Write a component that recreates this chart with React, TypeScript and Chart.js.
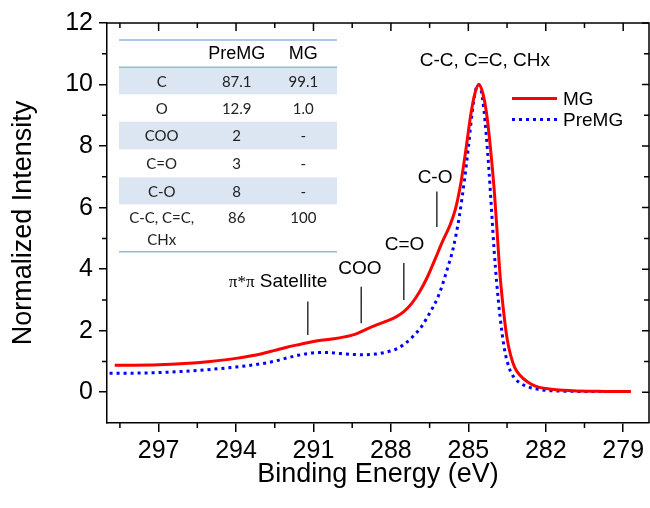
import React, { useEffect, useRef } from "react";
import { Chart, registerables } from "chart.js";
Chart.register(...registerables);

// ---------- data ----------
const mgEnergy = [298.7, 298.0, 297.0, 296.0, 295.0, 294.0, 293.0, 292.5, 292.0, 291.5, 291.0, 290.6, 290.2, 289.8, 289.4, 289.0, 288.6, 288.2, 287.8, 287.5, 287.2, 286.9, 286.6, 286.3, 286.0, 285.7, 285.5, 285.3, 285.1, 284.9, 284.75, 284.6, 284.45, 284.3, 284.15, 284.0, 283.9, 283.77, 283.63, 283.5, 283.36, 283.2, 283.0, 282.7, 282.4, 282.0, 281.5, 281.0, 280.0, 279.0, 278.7];
const mgIntensity = [0.88, 0.88, 0.89, 0.93, 1.0, 1.1, 1.25, 1.36, 1.47, 1.56, 1.65, 1.7, 1.74, 1.8, 1.88, 2.03, 2.17, 2.3, 2.45, 2.62, 2.88, 3.25, 3.72, 4.3, 4.9, 5.45, 5.95, 6.75, 7.85, 9.05, 9.7, 10.0, 9.75, 9.1, 8.0, 6.6, 5.4, 3.8, 2.6, 1.75, 1.2, 0.8, 0.55, 0.33, 0.2, 0.12, 0.07, 0.05, 0.03, 0.02, 0.02];

const premgEnergy = [298.9, 298.0, 297.0, 296.0, 295.0, 294.0, 293.0, 292.5, 292.0, 291.6, 291.2, 290.8, 290.4, 290.0, 289.5, 289.0, 288.6, 288.2, 287.8, 287.5, 287.15, 286.8, 286.5, 286.2, 286.0, 285.8, 285.6, 285.35, 285.15, 285.0, 284.85, 284.72, 284.6, 284.5, 284.4, 284.3, 284.2, 284.1, 284.0, 283.9, 283.77, 283.6, 283.4, 283.2, 283.0, 282.7, 282.4, 282.0, 281.5, 281.0, 280.0, 279.3];
const premgIntensity = [0.62, 0.62, 0.64, 0.68, 0.74, 0.82, 0.93, 1.01, 1.12, 1.2, 1.26, 1.29, 1.29, 1.26, 1.23, 1.22, 1.24, 1.3, 1.4, 1.55, 1.81, 2.15, 2.57, 3.05, 3.5, 4.05, 4.63, 5.71, 6.9, 7.95, 9.1, 9.8, 10.0, 9.8, 9.2, 8.3, 7.2, 5.9, 4.6, 3.55, 2.45, 1.4, 0.75, 0.45, 0.3, 0.18, 0.11, 0.06, 0.04, 0.03, 0.02, 0.02];

const xTickValues = [297, 294, 291, 288, 285, 282, 279];
const xMinorTicks = [298.5, 295.5, 292.5, 289.5, 286.5, 283.5, 280.5];
const yTickValues = [0, 2, 4, 6, 8, 10, 12];
const yMinorTicks = [1, 3, 5, 7, 9, 11];

const seriesNames = ["MG", "PreMG"];

const tableHeaders = ["", "PreMG", "MG"];
const tableLabels = ["C", "O", "COO", "C=O", "C-O", "C-C, C=C,|CHx"];
const tablePreMG = ["87.1", "12.9", "2", "3", "8", "86"];
const tableMG = ["99.1", "1.0", "-", "-", "-", "100"];

const peakLabels = ["C-C, C=C, CHx", "C-O", "C=O", "COO"];
const peakLabelEnergy = [284.36, 286.29, 287.47, 289.2];
const peakLabelY = [10.77, 6.97, 4.79, 4.01];
const satelliteEnergy = 292.37;
const satelliteY = 3.59;
const markerEnergy = [286.22, 287.5, 289.15, 291.22];
const markerBottom = [5.37, 3.0, 2.24, 1.86];
const markerTop = [6.52, 4.2, 3.43, 2.95];

const SANS = "'Liberation Sans', Arial, Helvetica, sans-serif";

const extrasPlugin = {
  id: "extras",
  afterDraw(chart: any) {
    const { ctx, chartArea: ca, scales } = chart;
    const xs = scales.x;
    const ys = scales.y;
    ctx.save();
    ctx.strokeStyle = "#000";
    ctx.lineWidth = 1.5;
    // top and right frame
    ctx.beginPath();
    ctx.moveTo(ca.left, ca.top);
    ctx.lineTo(ca.right, ca.top);
    ctx.lineTo(ca.right, ca.bottom);
    ctx.stroke();
    // ticks
    ctx.beginPath();
    for (const v of xTickValues) {
      const px = xs.getPixelForValue(v);
      ctx.moveTo(px, ca.top);
      ctx.lineTo(px, ca.top + 8);
    }
    for (const v of xMinorTicks) {
      const px = xs.getPixelForValue(v);
      ctx.moveTo(px, ca.top);
      ctx.lineTo(px, ca.top + 5);
      ctx.moveTo(px, ca.bottom);
      ctx.lineTo(px, ca.bottom + 5);
    }
    for (const v of yTickValues) {
      const py = ys.getPixelForValue(v);
      ctx.moveTo(ca.right, py);
      ctx.lineTo(ca.right - 7, py);
    }
    for (const v of yMinorTicks) {
      const py = ys.getPixelForValue(v);
      ctx.moveTo(ca.right, py);
      ctx.lineTo(ca.right - 5, py);
      ctx.moveTo(ca.left, py);
      ctx.lineTo(ca.left - 5, py);
    }
    ctx.stroke();

    // peak markers
    ctx.strokeStyle = "#333";
    ctx.lineWidth = 1.5;
    ctx.beginPath();
    markerEnergy.forEach((e, i) => {
      const px = xs.getPixelForValue(e);
      ctx.moveTo(px, ys.getPixelForValue(markerBottom[i]));
      ctx.lineTo(px, ys.getPixelForValue(markerTop[i]));
    });
    ctx.stroke();

    ctx.fillStyle = "#000";
    ctx.textBaseline = "middle";
    ctx.textAlign = "center";
    ctx.font = `19px ${SANS}`;
    peakLabels.forEach((t, i) => {
      ctx.fillText(t, xs.getPixelForValue(peakLabelEnergy[i]), ys.getPixelForValue(peakLabelY[i]));
    });
    // pi*pi satellite
    {
      const cx = xs.getPixelForValue(satelliteEnergy);
      const cy = ys.getPixelForValue(satelliteY);
      ctx.font = "17px 'Liberation Serif', 'Times New Roman', serif";
      const w1 = ctx.measureText("π*π").width;
      ctx.font = `19px ${SANS}`;
      const w2 = ctx.measureText(" Satellite").width;
      const start = cx - (w1 + w2) / 2;
      ctx.textAlign = "left";
      ctx.font = "17px 'Liberation Serif', 'Times New Roman', serif";
      ctx.fillText("π*π", start, cy + 1);
      ctx.font = `19px ${SANS}`;
      ctx.fillText(" Satellite", start + w1, cy);
    }

    // legend
    const lx0 = 512, lx1 = 557;
    const legendY = [98.5, 119.5];
    const colors = ["#ff0000", "#0000ff"];
    seriesNames.forEach((name, i) => {
      ctx.strokeStyle = colors[i];
      ctx.lineWidth = 3;
      ctx.setLineDash(i === 1 ? [3, 4] : []);
      ctx.beginPath();
      ctx.moveTo(lx0, legendY[i]);
      ctx.lineTo(lx1, legendY[i]);
      ctx.stroke();
      ctx.setLineDash([]);
      ctx.fillStyle = "#000";
      ctx.textAlign = "left";
      ctx.font = `19px ${SANS}`;
      ctx.fillText(name, 563, legendY[i] + 1);
    });

    // table
    const tx0 = 119, tx1 = 337;
    const colX = [161.7, 236.7, 303.3];
    const rowEdges = [67.3, 94.3, 121.7, 149.3, 177.3, 204.3, 251.7];
    ctx.fillStyle = "#dce6f2";
    [0, 2, 4].forEach((r) => {
      ctx.fillRect(tx0, rowEdges[r], tx1 - tx0, rowEdges[r + 1] - rowEdges[r]);
    });
    ctx.strokeStyle = "#95b6df";
    ctx.lineWidth = 1.5;
    ctx.beginPath();
    [40, 67.3, 251.7].forEach((y) => {
      ctx.moveTo(tx0, y);
      ctx.lineTo(tx1, y);
    });
    ctx.stroke();
    ctx.fillStyle = "#000";
    ctx.textAlign = "center";
    ctx.font = `18px ${SANS}`;
    tableHeaders.forEach((h, c) => {
      if (h) ctx.fillText(h, colX[c], 54.5);
    });
    ctx.font = "15px Lato, 'Open Sans', sans-serif";
    ctx.fillStyle = "#222";
    tableLabels.forEach((lab, r) => {
      const top = rowEdges[r];
      const bottom = rowEdges[r + 1];
      const lines = lab.split("|");
      if (lines.length > 1) {
        ctx.fillText(lines[0], colX[0], top + 14);
        ctx.fillText(lines[1], colX[0], top + 36);
        ctx.fillText(tablePreMG[r], colX[1], top + 14);
        ctx.fillText(tableMG[r], colX[2], top + 14);
      } else {
        const cy = (top + bottom) / 2 + 1;
        ctx.fillText(lines[0], colX[0], cy);
        ctx.fillText(tablePreMG[r], colX[1], cy);
        ctx.fillText(tableMG[r], colX[2], cy);
      }
    });
    ctx.restore();
  },
};

export default function App() {
  const ref = useRef<HTMLCanvasElement | null>(null);
  useEffect(() => {
    if (!ref.current) return;
    const chart = new Chart(ref.current, {
      type: "line",
      data: {
        datasets: [
          {
            label: seriesNames[0],
            data: mgEnergy.map((x, i) => ({ x, y: mgIntensity[i] })),
            borderColor: "#ff0000",
            borderWidth: 3,
            pointRadius: 0,
            cubicInterpolationMode: "monotone",
            fill: false,
          },
          {
            label: seriesNames[1],
            data: premgEnergy.map((x, i) => ({ x, y: premgIntensity[i] })),
            borderColor: "#0000ff",
            borderWidth: 3,
            borderDash: [3, 4],
            pointRadius: 0,
            cubicInterpolationMode: "monotone",
            fill: false,
          },
        ],
      },
      options: {
        animation: false,
        responsive: false,
        devicePixelRatio: 1,
        layout: { padding: { left: 0, top: 23, right: 1, bottom: 0 } },
        plugins: { legend: { display: false }, tooltip: { enabled: false } },
        scales: {
          x: {
            type: "linear",
            reverse: true,
            min: 278,
            max: 299,
            afterBuildTicks: (s: any) => {
              s.ticks = xTickValues.map((v) => ({ value: v }));
            },
            afterFit: (s: any) => {
              s.height = 85;
            },
            ticks: {
              autoSkip: false,
              maxRotation: 0,
              padding: 4,
              color: "#000",
              font: { family: SANS, size: 25 },
              callback: (v: any) => String(v),
            },
            grid: { display: true, drawOnChartArea: false, drawTicks: true, tickLength: 9, color: "#000", lineWidth: 1.5 },
            border: { display: true, color: "#000", width: 1.5 },
            title: {
              display: true,
              text: "Binding Energy (eV)",
              color: "#000",
              font: { family: SANS, size: 27 },
              padding: { top: 0, bottom: 17 },
            },
          },
          y: {
            type: "linear",
            min: -1,
            max: 12,
            afterBuildTicks: (s: any) => {
              s.ticks = yTickValues.map((v) => ({ value: v }));
            },
            afterFit: (s: any) => {
              s.width = 107;
            },
            ticks: {
              padding: 6,
              color: "#000",
              font: { family: SANS, size: 25 },
              callback: (v: any) => String(v),
            },
            grid: { display: true, drawOnChartArea: false, drawTicks: true, tickLength: 8, color: "#000", lineWidth: 1.5 },
            border: { display: true, color: "#000", width: 1.5 },
            title: {
              display: true,
              text: "Normalized Intensity",
              color: "#000",
              font: { family: SANS, size: 27 },
              padding: { top: 7, bottom: 0 },
            },
          },
        },
      },
      plugins: [extrasPlugin],
    });
    return () => chart.destroy();
  }, []);
  return (
    <div style={{ position: "absolute", left: 0, top: 0, width: 650, height: 508, background: "#fff" }}>
      <canvas ref={ref} width={650} height={508} style={{ width: 650, height: 508, display: "block" }} />
    </div>
  );
}
